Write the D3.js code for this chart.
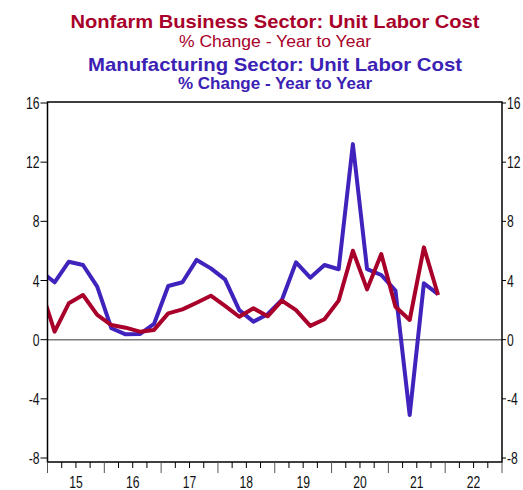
<!DOCTYPE html>
<html><head><meta charset="utf-8">
<script src="https://cdn.jsdelivr.net/npm/d3@7"></script>
<style>body{margin:0;background:#fff}</style></head>
<body>
<svg id="c" width="523" height="490"></svg>
<script>
const quarters = ["2014Q4",
  "2015Q1","2015Q2","2015Q3","2015Q4",
  "2016Q1","2016Q2","2016Q3","2016Q4",
  "2017Q1","2017Q2","2017Q3","2017Q4",
  "2018Q1","2018Q2","2018Q3","2018Q4",
  "2019Q1","2019Q2","2019Q3","2019Q4",
  "2020Q1","2020Q2","2020Q3","2020Q4",
  "2021Q1","2021Q2","2021Q3","2021Q4"];
const nonfarm = [3.56,
  0.54, 2.46, 3.02, 1.67,
  0.99, 0.81, 0.54, 0.66,
  1.78, 2.05, 2.50, 2.97,
  2.28, 1.55, 2.12, 1.58,
  2.64, 2.00, 0.93, 1.38,
  2.64, 6.01, 3.40, 5.79,
  2.23, 1.33, 6.24, 3.02];
const manufacturing = [4.64,
  3.88, 5.27, 5.05, 3.58,
  0.77, 0.36, 0.38, 1.06,
  3.63, 3.88, 5.39, 4.82,
  4.08, 2.00, 1.22, 1.72,
  2.68, 5.23, 4.19, 5.05,
  4.76, 13.22, 4.77, 4.37,
  3.31, -5.09, 3.81, 3.08];
const yTicks = [-8, -4, 0, 4, 8, 12, 16];
const years = [2015, 2016, 2017, 2018, 2019, 2020, 2021, 2022];
const yearLabels = ["15", "16", "17", "18", "19", "20", "21", "22"];
const titleLines = [
  {text: "Nonfarm Business Sector: Unit Labor Cost", color: "#a8002a", weight: "bold", size: 18.5, y: 28, len: 409},
  {text: "% Change - Year to Year", color: "#a8002a", weight: "normal", size: 16, y: 46.5, len: 192},
  {text: "Manufacturing Sector: Unit Labor Cost", color: "#3c22b4", weight: "bold", size: 18.5, y: 70.5, len: 374},
  {text: "% Change - Year to Year", color: "#3c22b4", weight: "bold", size: 16, y: 89, len: 194}
];

const svg = d3.select("#c");
const font = "'Liberation Sans', Arial, Helvetica, sans-serif";
const L = 47.5, R = 502, T = 102, B = 462;

const qx = q => +q.slice(0,4) + (+q.slice(5) - 0.5) / 4;
const x = d3.scaleLinear().domain([2015, 2023]).range([L, R]);
const y = d3.scaleLinear().domain([-8, 16]).range([458, 103]);

// titles
titleLines.forEach(t => {
  svg.append("text")
    .attr("x", 275).attr("y", t.y)
    .attr("text-anchor", "middle")
    .attr("font-family", font).attr("font-size", t.size)
    .attr("font-weight", t.weight).attr("fill", t.color)
    .attr("textLength", t.len).attr("lengthAdjust", "spacingAndGlyphs")
    .text(t.text);
});

// clip
svg.append("clipPath").attr("id", "clip").append("rect")
  .attr("x", L).attr("y", T).attr("width", R - L).attr("height", B - T);

// zero line
svg.append("line").attr("x1", L).attr("x2", R).attr("y1", y(0)).attr("y2", y(0))
  .attr("stroke", "#7a7a7a").attr("stroke-width", 1.5);

const line = (vals) => d3.line().x((d, i) => x(qx(quarters[i]))).y(d => y(d))(vals);
const g = svg.append("g").attr("clip-path", "url(#clip)");
g.append("path").attr("d", line(manufacturing)).attr("fill", "none")
  .attr("stroke", "#4022bc").attr("stroke-width", 4).attr("stroke-linejoin", "round");
g.append("path").attr("d", line(nonfarm)).attr("fill", "none")
  .attr("stroke", "#a8002a").attr("stroke-width", 4).attr("stroke-linejoin", "round");

// frame
svg.append("rect").attr("x", L).attr("y", T).attr("width", R - L).attr("height", B - T)
  .attr("fill", "none").attr("stroke", "#000").attr("stroke-width", 1.5);

// left & right axes
const yl = svg.append("g");
yTicks.forEach(v => {
  yl.append("line").attr("x1", L - 7).attr("x2", L).attr("y1", y(v)).attr("y2", y(v))
    .attr("stroke", "#000").attr("stroke-width", 1);
  yl.append("text").attr("transform", `translate(${L - 8},${y(v) + 6}) scale(0.76,1)`)
    .attr("text-anchor", "end").attr("font-family", font).attr("font-size", 16)
    .attr("fill", "#111").text(v);
  yl.append("line").attr("x1", R).attr("x2", R + 4).attr("y1", y(v)).attr("y2", y(v))
    .attr("stroke", "#000").attr("stroke-width", 1);
  yl.append("text").attr("transform", `translate(${R + 5},${y(v) + 6}) scale(0.76,1)`)
    .attr("text-anchor", "start").attr("font-family", font).attr("font-size", 16)
    .attr("fill", "#111").text(v);
});

// bottom axis
const xa = svg.append("g");
for (let k = 0; k <= 32; k++) {
  const t = 2015 + k / 4;
  const major = k % 4 === 0;
  xa.append("line").attr("x1", x(t)).attr("x2", x(t)).attr("y1", B)
    .attr("y2", B + (major ? 11 : 6))
    .attr("stroke", major ? "#555" : "#000").attr("stroke-width", 1);
}
years.forEach((yr, i) => {
  xa.append("text").attr("transform", `translate(${x(yr + 0.5)},${488}) scale(0.76,1)`)
    .attr("text-anchor", "middle").attr("font-family", font).attr("font-size", 16)
    .attr("fill", "#111").text(yearLabels[i]);
});
</script>
</body></html>
